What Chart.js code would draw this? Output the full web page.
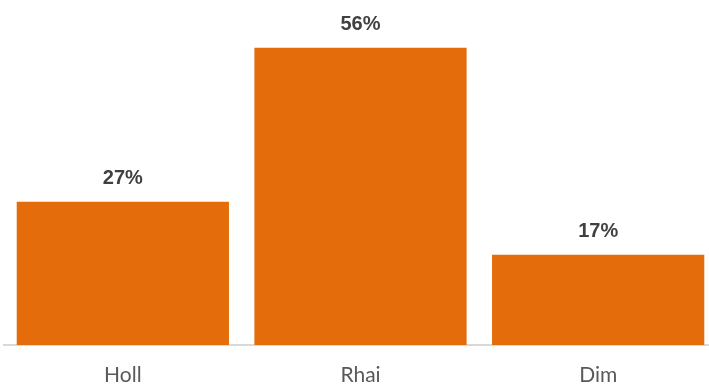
<!DOCTYPE html>
<html>
<head>
<meta charset="utf-8">
<script src="https://cdn.jsdelivr.net/npm/chart.js@4/dist/chart.umd.min.js"></script>
<style>
  html, body { margin: 0; padding: 0; background: #fff; overflow: hidden; }
  .wrap { width: 721px; height: 387px; position: relative; }
</style>
</head>
<body>
<div class="wrap"><canvas id="shareChart"></canvas></div>
<script>
const categories = ['Holl', 'Rhai', 'Dim'];
const shares = [27, 56, 17];
const valueLabels = ['27%', '56%', '17%'];

// draws the % labels above each bar
const barLabels = {
  id: 'barLabels',
  afterDatasetsDraw(chart) {
    const ctx = chart.ctx;
    const meta = chart.getDatasetMeta(0);
    ctx.save();
    ctx.font = 'bold 20px "Liberation Sans", Arial, sans-serif';
    ctx.fillStyle = '#404040';
    ctx.textAlign = 'center';
    ctx.textBaseline = 'alphabetic';
    meta.data.forEach((bar, i) => {
      ctx.fillText(valueLabels[i], bar.x, bar.y - 18);
    });
    ctx.restore();
  }
};

new Chart(document.getElementById('shareChart').getContext('2d'), {
  type: 'bar',
  data: {
    labels: categories,
    datasets: [{
      data: shares,
      backgroundColor: '#E46C0A',
      borderWidth: 0,
      barPercentage: 0.893,
      categoryPercentage: 1
    }]
  },
  options: {
    responsive: true,
    maintainAspectRatio: false,
    animation: false,
    layout: { padding: { left: 4, right: 4, top: 0, bottom: 0 } },
    plugins: {
      legend: { display: false },
      tooltip: { enabled: false }
    },
    scales: {
      x: {
        grid: { display: false, drawTicks: false },
        border: { display: true, color: '#d9d9d9', width: 2 },
        ticks: {
          color: '#595959',
          font: { family: 'Lato, "Noto Sans", sans-serif', size: 21 },
          padding: 18
        },
        afterFit(scale) { scale.height = 42; }
      },
      y: {
        display: false,
        min: 0,
        max: 65
      }
    }
  },
  plugins: [barLabels]
});
</script>
</body>
</html>
